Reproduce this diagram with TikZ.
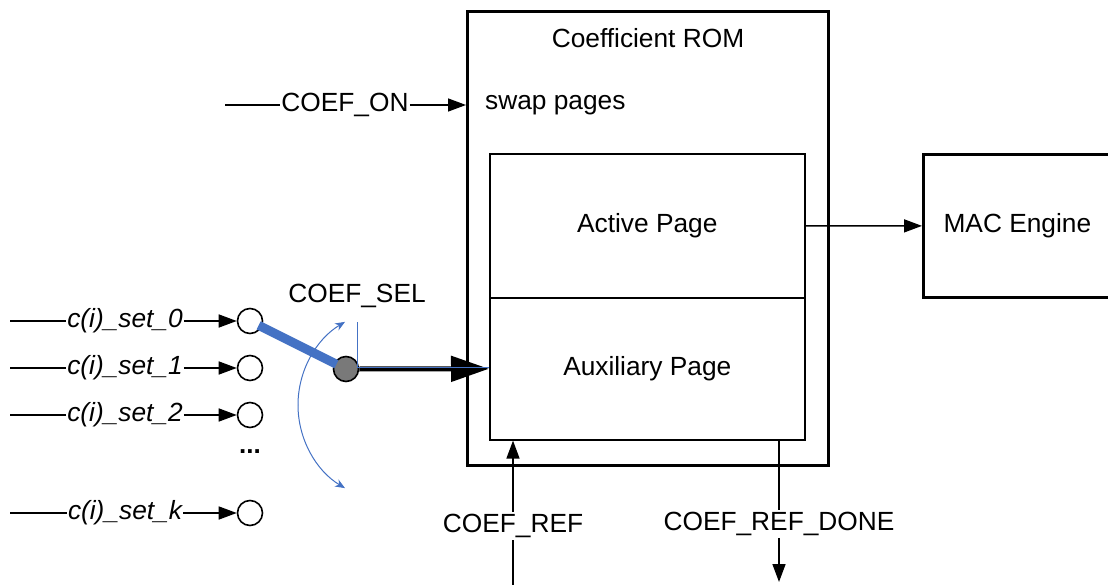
\documentclass[tikz,border=0pt]{standalone}
\usepackage{fontspec}
\setmainfont{Liberation Sans}
\usetikzlibrary{arrows.meta,calc}
\definecolor{swblue}{HTML}{4472C4}
\begin{document}
\begin{tikzpicture}[x=1pt,y=-1pt,
  lbl/.style={font=\fontsize{26.3}{31}\selectfont, inner sep=1pt},
  ilbl/.style={font=\fontsize{26.3}{31}\selectfont\itshape, inner sep=1pt},
  wire/.style={line width=1.5pt},
  arr/.style={wire, -{Triangle[length=18pt,width=13pt]}},
  box/.style={draw, line width=1.6pt, anchor=north west, inner sep=0pt, font=\fontsize{26.3}{31}\selectfont},
  port/.style={circle, draw, line width=1.6pt, minimum size=25pt, inner sep=0pt},
  barr/.style={swblue, line width=1pt, -{Stealth[length=10pt,width=8pt]}}
]
\useasboundingbox (0,0) rectangle (1108,585);
% Coefficient ROM
\node[box, line width=2.8pt, minimum width=361pt, minimum height=454pt] (rom) at (466,10) {};
\node[lbl] (romt) at (648,38) {Coefficient ROM};
\node[lbl, anchor=west] (swap) at (484,105) {swap pages};
\node[box, minimum width=315pt, minimum height=144pt] (act) at (489,153) {Active Page};
\node[box, minimum width=315pt, minimum height=142pt] (aux) at (489,297) {Auxiliary Page};
% MAC engine
\node[box, line width=2.8pt, minimum width=200pt, minimum height=143pt] (mac) at (922,153) {\hspace*{-6pt}MAC Engine\hspace*{6pt}};
\draw[arr] (act.east) -- (mac.west);
% COEF_ON
\coordinate (onin) at (225,105);
\node[lbl] (on) at (345,105) {COEF\_ON};
\draw[wire] (onin) -- (on.west);
\draw[arr] (on.east) -- (on.east -| rom.west);
% inputs
\foreach \i/\t/\y in {0/0/321,1/1/368,2/2/415,k/k/513}{
  \coordinate (in\i) at (10,\y);
  \node[ilbl] (t\i) at (125,\y) {c(i)\_set\_\t};
  \node[port] (c\i) at (250,\y) {};
  \draw[wire] (in\i) -- (t\i.west);
  \draw[arr] (t\i.east) -- (c\i.west);
}
\node[font=\fontsize{26}{31}\selectfont\bfseries, inner sep=0pt] (dots) at (250,452) {...};
% switch
\node[port, fill=gray!95!black] (piv) at (346,369) {};
\draw[line width=9pt, swblue] ($(c0.center)!0.09!(piv.center)$) -- ($(c0.center)!0.9!(piv.center)$);
\draw[line width=5pt, -{Triangle[length=38pt,width=25pt]}] (piv.east) -- (aux.west);
\coordinate (selt) at (357,322);
\draw[swblue, line width=0.9pt] (selt) -- (357,367.5) -- (aux.west |- 0,367.5);
\node[lbl] (sel) at (357,296) {COEF\_SEL};
\draw[barr] (395,405) ++(180:97) arc[start angle=180, end angle=121, radius=97];
\draw[barr] (395,405) ++(180:97) arc[start angle=180, end angle=239, radius=97];
% COEF_REF
\node[lbl, inner sep=2pt] (ref) at (513,526) {COEF\_REF};
\coordinate (refin) at (513,585);
\draw[wire] (refin) -- (ref.south);
\draw[arr] (ref.north) -- (ref.north |- aux.south);
% COEF_REF_DONE
\node[lbl, inner sep=2pt] (done) at (779,524) {COEF\_REF\_DONE};
\coordinate (doneout) at (779,582);
\draw[wire] (done.north |- aux.south) -- (done.north);
\draw[arr] (done.south) -- (doneout);
\end{tikzpicture}
\end{document}
